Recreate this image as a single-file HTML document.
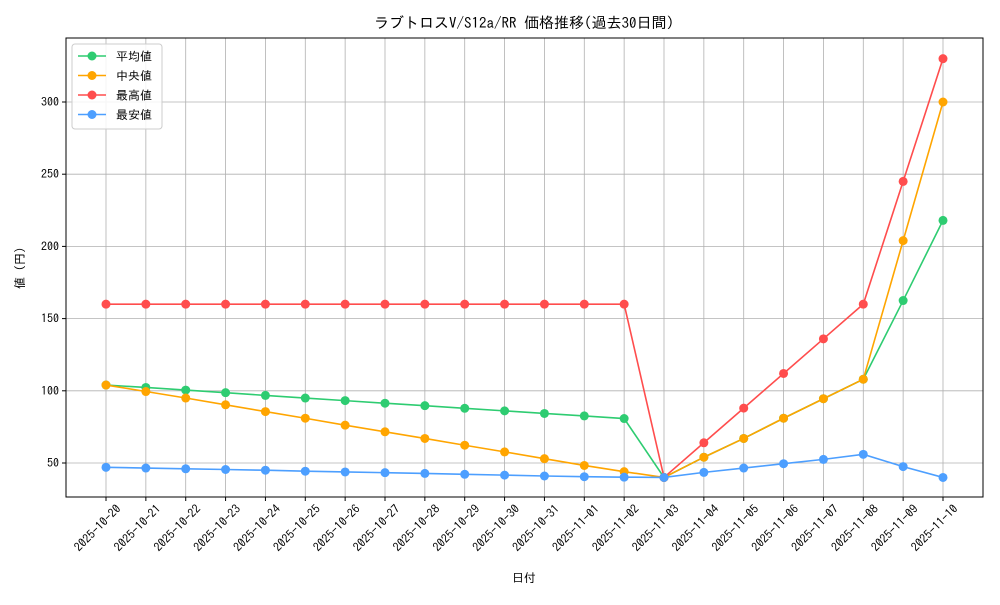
<!DOCTYPE html>
<html><head><meta charset="utf-8">
<style>
body{margin:0;background:#fff;}
svg text{font-family:"IPAGothic","Noto Sans CJK JP",monospace;fill:#000;}
</style></head>
<body>
<svg id="chart" width="1000" height="600" xmlns="http://www.w3.org/2000/svg">
<rect width="1000" height="600" fill="#fff"/>
<text x="524" y="28" font-size="15" text-anchor="middle">ラブトロスV/S12a/RR 価格推移(過去30日間)</text>
<g id="grid"></g>
<g id="series"></g>
<rect x="66" y="38" width="917" height="459" fill="none" stroke="#000" stroke-width="1"/>
<g id="axes"></g>
<text x="524" y="582" font-size="12" text-anchor="middle">日付</text>
<text transform="translate(24,268) rotate(-90)" font-size="12" text-anchor="middle">値 (円)</text>
<g id="legend"></g>
</svg>
<script>
const dates=["2025-10-20","2025-10-21","2025-10-22","2025-10-23","2025-10-24","2025-10-25","2025-10-26","2025-10-27","2025-10-28","2025-10-29","2025-10-30","2025-10-31","2025-11-01","2025-11-02","2025-11-03","2025-11-04","2025-11-05","2025-11-06","2025-11-07","2025-11-08","2025-11-09","2025-11-10"];
const meanVals=[104,102.3,100.5,98.7,96.8,95,93.2,91.4,89.7,87.9,86.1,84.3,82.6,80.8,40,54,67,81,94.5,108,162.5,218];
const medianVals=[104,99.5,95,90.3,85.6,81,76.2,71.6,67,62.3,57.7,53,48.3,44,40,54,67,81,94.5,108,204,300];
const maxVals=[160,160,160,160,160,160,160,160,160,160,160,160,160,160,40,64,88,112,136,160,245,330];
const minVals=[47,46.5,46,45.5,45,44.3,43.8,43.3,42.8,42.2,41.6,41,40.5,40.2,40,43.5,46.5,49.5,52.5,56,47.5,40];
const yTicks=[50,100,150,200,250,300];
const seriesNames=["平均値","中央値","最高値","最安値"];
const NS="http://www.w3.org/2000/svg";
const x=i=>106+i*(943-106)/(dates.length-1);
const y=v=>463-(v-50)*(463-102)/250;
function mk(tag,attrs,parent){const e=document.createElementNS(NS,tag);for(const k in attrs)e.setAttribute(k,attrs[k]);parent.appendChild(e);return e;}
const grid=document.getElementById('grid'),axes=document.getElementById('axes'),ser=document.getElementById('series'),leg=document.getElementById('legend');
dates.forEach((d,i)=>{
 const l=mk('line',{x1:x(i),x2:x(i),y1:38,y2:497,stroke:'#b0b0b0','stroke-width':0.8},grid);
 
 
 mk('line',{x1:x(i),x2:x(i),y1:497,y2:501,stroke:'#000'},axes);
 const t=mk('text',{transform:`translate(${x(i)+10},${504}) rotate(-45)`,'font-size':12,'text-anchor':'end','dominant-baseline':'hanging'},axes);
 t.textContent=d;
 
 
});
yTicks.forEach(v=>{
 const l=mk('line',{x1:66,x2:983,y1:y(v),y2:y(v),stroke:'#b0b0b0','stroke-width':0.8},grid);
 
 
 mk('line',{x1:62,x2:66,y1:y(v),y2:y(v),stroke:'#000'},axes);
 const t=mk('text',{x:59,y:y(v)+4,'font-size':12,'text-anchor':'end'},axes);
 t.textContent=v;
 
 
});
const all=[[meanVals,'#2ecc71'],[medianVals,'#ffa500'],[maxVals,'#ff4d4d'],[minVals,'#4d9fff']];
const names=['mean-series','median-series','max-series','min-series'];
all.forEach(([vals,c],si)=>{
 const g=mk('g',{},ser);
 
 
 mk('polyline',{points:vals.map((v,i)=>x(i)+','+y(v)).join(' '),fill:'none',stroke:c,'stroke-width':1.6},g);
 vals.forEach((v,i)=>{
  const p=mk('circle',{cx:x(i),cy:y(v),r:4.5,fill:c},g);
  
  
 });
});
mk('rect',{x:72,y:44,width:90,height:85,fill:'#fff',stroke:'#ccc',rx:3,'fill-opacity':0.85},leg);
seriesNames.forEach((n,i)=>{
 const yy=56+i*19.5;
 const g=mk('g',{},leg);
 
 
 mk('line',{x1:78,x2:106,y1:yy,y2:yy,stroke:all[i][1],'stroke-width':1.6},g);
 mk('circle',{cx:92,cy:yy,r:4.5,fill:all[i][1]},g);
 const t=mk('text',{x:116,y:yy+4.5,'font-size':12},g);
 t.textContent=n;
});
</script>
</body></html>
